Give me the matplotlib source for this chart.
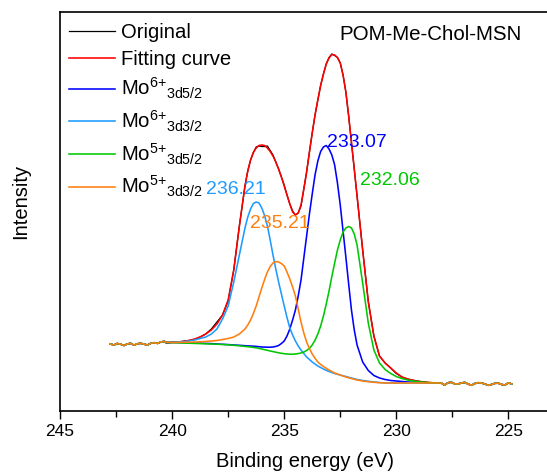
import numpy as np
import matplotlib.pyplot as plt

plt.rcParams['font.family'] = ['Liberation Sans', 'DejaVu Sans']
plt.rcParams['mathtext.default'] = 'regular'

# raw data outside the fitted window (shared by every curve)
be_left = np.round(np.arange(242.75, 240.30, -0.15), 2)
raw_left = [67, 66, 67.5, 66.8, 65.5, 67, 67.7, 65.8, 67.2, 67.7, 66.8, 66,
            67.7, 68.3, 67.6, 69, 69.7]
be_right = np.round(np.arange(227.85, 224.80, -0.15), 2)
raw_right = [26, 28.2, 28.8, 27.2, 27, 28, 28.6, 27, 25.7, 27.5, 28.3, 28, 27,
             25.7, 26.5, 27.7, 27.8, 26.5, 26, 28.2, 27]

# fitted window, binding energy (eV): finer steps across the peaks
be_fit = np.round(np.concatenate([np.arange(240.25, 236.8, -0.25),
                                  np.arange(236.75, 231.7, -0.125),
                                  np.arange(231.5, 227.9, -0.25)]), 3)

original = [67.5, 68.7, 69, 69.8, 70.5, 71.5, 74, 77, 82, 89, 96, 110, 141, 185,
            225, 240, 251, 258.5, 264, 265, 264.5, 264.5, 265, 260.5,
            256, 249, 242, 234, 226, 216, 207, 200, 196, 198,
            205, 222, 239, 259, 278, 296, 311, 325.5, 337, 347,
            353.5, 357, 355.5, 353.5, 348, 336, 319, 295, 268, 242, 215,
            161, 110, 75, 55, 48, 43, 37.5, 34, 32, 30.7, 29.8, 29, 28.2, 28, 28]
fitting = [68.5, 68.7, 69, 69.5, 70.5, 72, 74, 77, 81, 87, 96, 111, 141, 185,
           225, 240, 251, 258.5, 263, 265.5, 266, 265.5, 263, 259.5,
           255, 249, 242, 234, 225, 216, 207, 199, 196, 198,
           206, 222, 239, 259, 278, 296, 311, 325.5, 337, 347,
           353, 356.5, 356, 353.5, 348, 336, 319, 295, 269, 242, 215,
           161, 109, 75, 55, 48, 43, 38, 34, 32, 30.7, 29.5, 29, 28.5, 28, 28]
mo6_52 = [68.5, 68.5, 68.4, 68.3, 68.2, 68, 67.8, 67.6, 67.4, 67, 66.7, 66.4,
          66, 65.7,
          65.3, 65.1, 65, 64.8, 64.6, 64.3, 64, 63.9, 63.8, 63.8,
          64, 64.6, 65.5, 67.5, 70, 75, 82, 91, 101, 115,
          131, 153, 175, 197, 217, 236, 250, 259.5, 264, 265.5,
          262, 256, 246, 228, 206, 180, 154, 127, 101, 81, 66,
          49, 40.5, 35.5, 33, 31.5, 30.5, 30, 29.5, 29, 28.7, 28.4, 28.2, 28,
          28, 28]
mo6_32 = [68.5, 68.7, 69, 69.3, 70, 71, 72.5, 74, 77, 82, 92, 105, 129, 156,
          183, 194, 202, 207.5, 209, 208, 203, 195.5, 185, 171,
          156, 142, 129, 117, 105, 93.5, 83, 76, 70, 65,
          61, 57.5, 54, 51.5, 49, 47, 45, 43.5, 42, 40.7,
          39.5, 38.5, 37.5, 36.7, 36, 35.2, 34.5, 33.7, 33, 32.2, 31.5,
          30.5, 29.7, 29, 28.5, 28, 28, 28, 28, 28, 28, 28, 28, 28, 28, 28]
mo5_52 = [68.5, 68.4, 68.2, 68, 67.8, 67.6, 67.4, 67.2, 67, 66.8, 66.5, 66.2,
          65.7, 65.2,
          64.6, 64.3, 64, 63.6, 63.2, 62.6, 62, 61.3, 60.7, 60,
          59.4, 58.8, 58.2, 57.7, 57.3, 57, 56.8, 56.8, 57, 57.4,
          58, 59, 60.5, 62.8, 66, 70.8, 77, 85, 95, 107,
          120, 134.5, 148, 161, 171, 179, 183, 184.5, 183, 177, 166,
          128, 88, 61, 48, 41.5, 37.5, 34.5, 32.5, 31, 30, 29.2, 28.7, 28.3,
          28, 28]
mo5_32 = [68.5, 68.5, 68.6, 68.7, 68.8, 69, 69.2, 69.5, 70, 70.5, 71.5, 72.5,
          74, 77,
          82, 86, 91, 97.5, 105, 114, 123, 131.5, 139, 144.5,
          148, 149.5, 149, 147.5, 145, 139, 132, 124, 115, 102,
          89, 78, 69, 62.5, 57, 52.7, 49, 46.5, 44.5, 42.7,
          41, 39.5, 38, 37, 36, 35, 34, 33.2, 32.5, 31.7, 31,
          30, 29.3, 28.7, 28.3, 28, 28, 28, 28, 28, 28, 28, 28, 28, 28, 28]

labels = ['Original', 'Fitting curve',
          'Mo$^{6{+}}$$_{3d5/2}$', 'Mo$^{6{+}}$$_{3d3/2}$',
          'Mo$^{5{+}}$$_{3d5/2}$', 'Mo$^{5{+}}$$_{3d3/2}$']
colors = ['black', '#ff0000', '#0000ff', '#1e9bff', '#00c800', '#ff7f0e']
series = [original, fitting, mo6_52, mo6_32, mo5_52, mo5_32]

peak_text = ['236.21', '235.21', '233.07', '232.06']
peak_text_be = [238.5, 236.53, 233.07, 231.6]
peak_text_y = [222, 187, 268.5, 230.5]
peak_text_col = ['#1e9bff', '#ff7f0e', '#0000ff', '#00c800']

fig = plt.figure(figsize=(5.47, 4.75), dpi=100)
ax = fig.add_axes([60 / 547, 64 / 475, 491 / 547, 399 / 475])

x_all = np.concatenate([be_left, be_fit, be_right])
for y, c, lab in zip(series, colors, labels):
    y_all = np.concatenate([raw_left, y, raw_right])
    lw = 0.9 if c == 'black' else 1.15
    ax.plot(x_all, y_all, color=c, lw=lw, label=lab)

for t, xx, yy, c in zip(peak_text, peak_text_be, peak_text_y, peak_text_col):
    ax.text(xx, yy, t, color=c, fontsize=14, ha='left', va='center')

ax.text(232.55, 376, 'POM-Me-Chol-MSN', fontsize=14.8, ha='left', va='center')

ax.set_xlim(245, 223.1)
ax.set_ylim(0, 399)
ax.set_xticks([245, 240, 235, 230, 225])
ax.set_xticks([242.5, 237.5, 232.5, 227.5], minor=True)
ax.tick_params(axis='x', which='major', length=6, width=1, labelsize=12.5)
ax.tick_params(axis='x', which='minor', length=4, width=1)
ax.set_yticks([])
for s in ax.spines.values():
    s.set_linewidth(1.2)

ax.set_xlabel('Binding energy (eV)', fontsize=14.5, labelpad=9)
ax.set_ylabel('Intensity', fontsize=14.5)
ax.yaxis.set_label_coords(-0.061, 0.524)

ax.legend(loc='upper left', bbox_to_anchor=(-0.005, 1.0), frameon=False,
          fontsize=14.6, handlelength=2.3, handletextpad=0.3,
          labelspacing=0.37, borderaxespad=0.15)

fig.savefig('out.png', dpi=100)
